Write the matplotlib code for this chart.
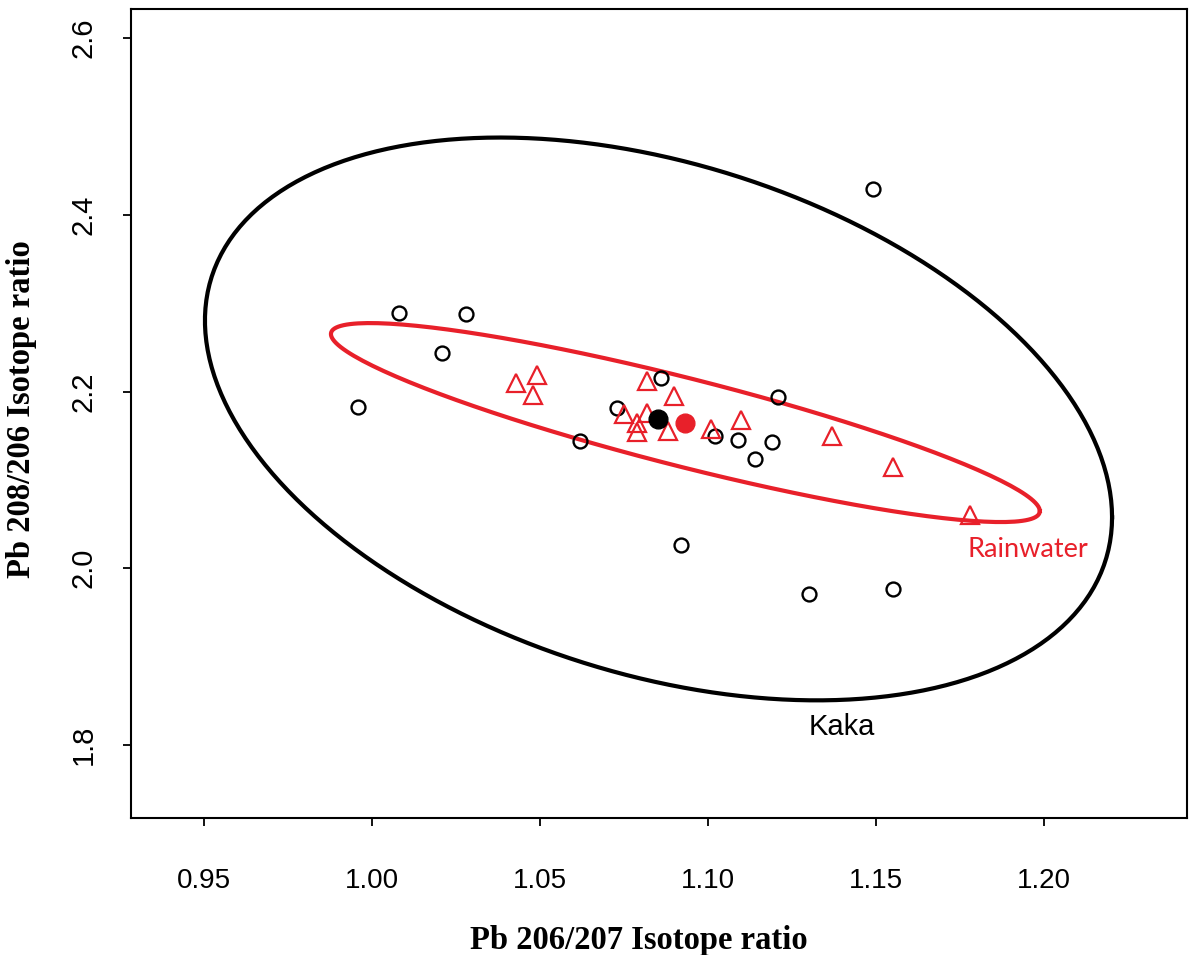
import numpy as np
import matplotlib
matplotlib.use('Agg')
import matplotlib.pyplot as plt

# Kaka samples (open black circles)
kaka_x = [1.149, 1.008, 1.028, 1.021, 0.996, 1.086, 1.073, 1.062, 1.121,
          1.102, 1.109, 1.119, 1.114, 1.092, 1.130, 1.155]
kaka_y = [2.429, 2.289, 2.288, 2.244, 2.183, 2.215, 2.181, 2.144, 2.194,
          2.150, 2.145, 2.143, 2.124, 2.026, 1.971, 1.977]

# Rainwater samples (open red triangles)
rain_x = [1.043, 1.049, 1.048, 1.082, 1.090, 1.075, 1.082, 1.079, 1.079,
          1.088, 1.101, 1.110, 1.137, 1.155, 1.178]
rain_y = [2.210, 2.219, 2.196, 2.212, 2.195, 2.175, 2.176, 2.164, 2.154,
          2.155, 2.158, 2.168, 2.150, 2.115, 2.060]

# group means
kaka_mean = [1.0853, 2.1690]
rain_mean = [1.0933, 2.1649]

# ellipse shape matrices
kaka_cov = [[0.018225, -0.01503], [-0.01503, 0.10144]]
rain_cov = [[0.01113, -0.01057], [-0.01057, 0.01268]]

xticks = [0.95, 1.00, 1.05, 1.10, 1.15, 1.20]
yticks = [1.8, 2.0, 2.2, 2.4, 2.6]

sans = ['Liberation Sans Narrow', 'Liberation Sans', 'DejaVu Sans']
red = '#e8202a'


def ellipse(center, cov, n=200):
    t = np.linspace(0, 2 * np.pi, n)
    L = np.linalg.cholesky(np.array(cov))
    pts = L @ np.vstack([np.cos(t), np.sin(t)])
    return center[0] + pts[0], center[1] + pts[1]


fig = plt.figure(figsize=(11.89, 9.55), dpi=100)
ax = fig.add_axes([0.1102, 0.1435, 0.8881, 0.8471])

ex, ey = ellipse(kaka_mean, kaka_cov)
ax.plot(ex, ey, color='black', linewidth=3)
ex, ey = ellipse(rain_mean, rain_cov)
ax.plot(ex, ey, color=red, linewidth=3)

ax.plot(kaka_x, kaka_y, linestyle='none', marker='o', markersize=10,
        markerfacecolor='none', markeredgecolor='black', markeredgewidth=1.7)
ax.plot(rain_x, rain_y, linestyle='none', marker='^', markersize=13,
        markerfacecolor='none', markeredgecolor=red, markeredgewidth=1.6)
ax.plot(kaka_mean[0], kaka_mean[1], marker='o', markersize=13.5,
        color='black', linestyle='none')
ax.plot(rain_mean[0], rain_mean[1], marker='o', markersize=13.5,
        color=red, linestyle='none')

ax.text(1.140, 1.8204, 'Kaka', ha='center', va='center', fontsize=21,
        family=sans, color='black')
ax.text(1.1952, 2.0218, 'Rainwater', ha='center', va='center', fontsize=19.5,
        family=['Lato', 'DejaVu Sans'], color=red)

ax.set_xlim(0.9283, 1.2426)
ax.set_ylim(1.7174, 2.633)
ax.set_xticks(xticks)
ax.set_xticklabels(['%.2f' % v for v in xticks], family=sans, fontsize=20)
ax.set_yticks(yticks)
ax.set_yticklabels(['%.1f' % v for v in yticks], rotation=90, va='center',
                   family=sans, fontsize=21)
ax.tick_params(axis='x', direction='out', length=6, width=1.3, pad=30)
ax.tick_params(axis='y', direction='out', length=6, width=1.3, pad=18)
for s in ax.spines.values():
    s.set_linewidth(1.5)

font = {'family': ['Liberation Serif', 'DejaVu Serif'], 'weight': 'bold', 'size': 23.5}
fig.text(639 / 1189, 1 - 940 / 955, 'Pb 206/207 Isotope ratio', fontdict=font,
         ha='center', va='center')
fig.text(22 / 1189, 1 - 409 / 955, 'Pb 208/206 Isotope ratio', fontdict=font,
         ha='center', va='center', rotation=90)

fig.savefig('out.png', dpi=100)
